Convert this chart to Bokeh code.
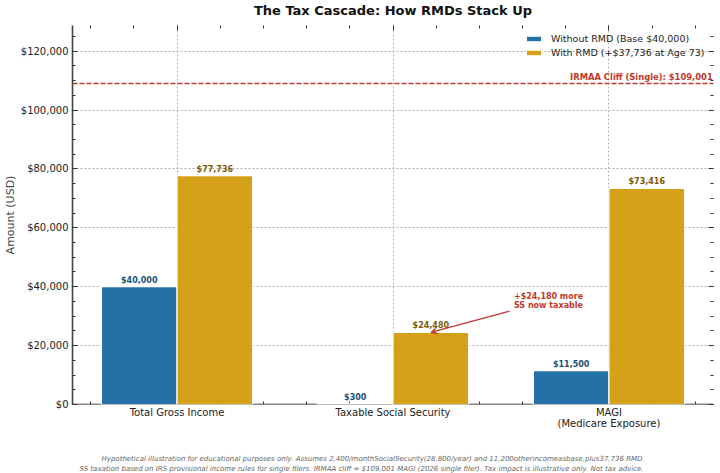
from bokeh.plotting import figure
from bokeh.core.properties import value
from bokeh.models import (ColumnDataSource, FixedTicker, NumeralTickFormatter, LinearAxis,
                          Range1d, Label, Span, Arrow, VeeHead, Legend, LegendItem, Title)
from bokeh.embed import file_html
from bokeh.resources import INLINE

title = "The Tax Cascade: How RMDs Stack Up"
categories = ["Total Gross Income", "Taxable Social Security", "MAGI\n(Medicare Exposure)"]
positions = [0, 1, 2]
without_rmd = [40000, 300, 11500]
with_rmd = [77736, 24480, 73416]
series_names = ["Without RMD (Base $40,000)", "With RMD (+$37,736 at Age 73)"]
y_ticks = [0, 20000, 40000, 60000, 80000, 100000, 120000]
y_minor = [v * 5000 for v in range(0, 26)]
x_minor = [-0.4, -0.2, 0, 0.2, 0.4, 0.6, 0.8, 1.0, 1.2, 1.4, 1.6, 1.8, 2.0, 2.2, 2.4]
irmaa_value = 109001
irmaa_text = "IRMAA Cliff (Single): $109,001"
note_text = "+$24,180 more\nSS now taxable"
notes_line1 = ("Hypothetical illustration for educational purposes only. Assumes 2,400/monthSocialSecurity(28,800/year) "
               "and 11,200otherincomeasbase,plus37,736 RMD.")
notes_line2 = ("SS taxation based on IRS provisional income rules for single filers. IRMAA cliff = $109,001 MAGI "
               "(2026 single filer). Tax impact is illustrative only. Not tax advice.")
BLUE, GOLD, RED = "#2471A8", "#D4A017", "#C0392B"
BLUE_T, GOLD_T = "#1A5276", "#7D5A0A"
FONT = "DejaVu Sans"
BAR = 0.35

p = figure(width=720, height=473, output_backend="svg", toolbar_location=None,
           x_range=Range1d(-0.484, 2.484), y_range=Range1d(0, 128700),
           min_border_left=72, min_border_right=7, min_border_top=25, min_border_bottom=69,
           outline_line_color=None, background_fill_color="white", border_fill_color="white")

p.title.text = title
p.title.align = "center"
p.title.text_font = FONT
p.title.text_font_size = "13px"
p.title.text_font_style = "bold"
p.title.text_color = "#111111"
p.title.standoff = 0

xa, ya = p.xaxis[0], p.yaxis[0]
xt = FixedTicker(ticks=positions, minor_ticks=x_minor)
yt = FixedTicker(ticks=y_ticks, minor_ticks=y_minor)
xa.ticker = xt
ya.ticker = yt
xa.major_label_overrides = dict(zip(positions, categories))
ya.formatter = NumeralTickFormatter(format="$0,0")
ya.axis_label = "Amount (USD)"
ya.axis_label_text_font = FONT
ya.axis_label_text_font_size = "11px"
ya.axis_label_text_font_style = "normal"
ya.axis_label_standoff = 1
ya.major_label_standoff = 4
xa.major_label_standoff = -4
xa.major_label_text_line_height = 1.0
for ax in (xa, ya):
    ax.major_label_text_font = FONT
    ax.major_label_text_font_size = "10px"
    ax.major_label_text_color = "#222222"
ya.major_tick_in, ya.major_tick_out = 5, 0
ya.minor_tick_in, ya.minor_tick_out = 3, 0
ya.major_tick_line_color = "#333333"
ya.minor_tick_line_color = "#333333"
ya.axis_line_color = "#444444"
ya.axis_line_width = 1.6
xa.axis_line_color = None
xa.major_tick_line_color = None
xa.minor_tick_line_color = None

tick_style = dict(major_tick_in=5, major_tick_out=0, minor_tick_in=3, minor_tick_out=0,
                  major_tick_line_color="#333333", minor_tick_line_color="#333333",
                  major_label_standoff=0, major_label_text_font_size="1px")
blank_x = {t: "" for t in positions}
blank_y = {t: "" for t in y_ticks}
base = LinearAxis(ticker=xt, fixed_location=0, level="underlay", axis_line_color="#111111",
                  axis_line_width=1.6, major_label_overrides=blank_x, **tick_style)
top = LinearAxis(ticker=xt, axis_line_color=None, major_label_overrides=blank_x, **tick_style)
right = LinearAxis(ticker=yt, axis_line_color=None, major_label_overrides=blank_y, **tick_style)
p.add_layout(base, "below")
p.add_layout(top, "above")
p.add_layout(right, "right")

note_style = dict(align="left", text_font=FONT, text_font_style="italic",
                  text_font_size="7px", text_color="#666666")
p.add_layout(Title(text=" ", standoff=0, text_font_size="5px"), "above")
p.add_layout(Title(text=" ", standoff=11, **note_style), "below")
p.add_layout(Title(text=notes_line1, standoff=0, offset=29, **note_style), "below")
p.add_layout(Title(text=notes_line2, standoff=0, offset=7, **note_style), "below")

for g in (p.xgrid[0], p.ygrid[0]):
    g.grid_line_color = "#A8A8A8"
    g.grid_line_dash = [2, 2]
    g.grid_line_width = 0.9

src = ColumnDataSource(dict(
    x=positions, a=without_rmd, b=with_rmd,
    xa=[v - BAR / 2 for v in positions], xb=[v + BAR / 2 for v in positions],
    la=[f"${v:,}" for v in without_rmd], lb=[f"${v:,}" for v in with_rmd]))
r1 = p.vbar(x="xa", top="a", width=BAR, source=src, fill_color=BLUE, line_color="white", line_width=1.2)
r2 = p.vbar(x="xb", top="b", width=BAR, source=src, fill_color=GOLD, line_color="white", line_width=1.2)

p.text(x="xa", y="a", text="la", source=src, text_align="center", text_baseline="bottom", y_offset=-2,
       text_font=value(FONT), text_font_size="8px", text_font_style="bold", text_color=BLUE_T)
p.text(x="xb", y="b", text="lb", source=src, text_align="center", text_baseline="bottom", y_offset=-2,
       text_font=value(FONT), text_font_size="8px", text_font_style="bold", text_color=GOLD_T)

p.add_layout(Span(location=irmaa_value, dimension="width", line_color=RED, line_dash=[5, 2], line_width=1.5))
p.add_layout(Label(x=1.82, y=irmaa_value, text=irmaa_text, text_align="left", text_baseline="bottom",
                   y_offset=1.5, text_font=FONT, text_font_size="8.4px", text_font_style="bold", text_color=RED))

p.add_layout(Arrow(end=VeeHead(size=6, line_color=RED, fill_color=RED, line_width=1),
                   x_start=1.54, y_start=31700, x_end=1.175, y_end=24480,
                   line_color=RED, line_width=1.2))
p.add_layout(Label(x=1.56, y=32200, text=note_text, text_align="left", text_baseline="bottom",
                   text_font=FONT, text_font_size="8px", text_font_style="bold", text_color=RED,
                   text_line_height=0.95))

legend = Legend(items=[LegendItem(label=series_names[0], renderers=[r1]),
                       LegendItem(label=series_names[1], renderers=[r2])],
                location=(452, 346), orientation="vertical", background_fill_alpha=0,
                border_line_color=None, padding=0, margin=0, glyph_width=19, glyph_height=7,
                label_standoff=8, label_height=12, spacing=2,
                label_text_font=FONT, label_text_font_size="9.5px", label_text_color="#222222")
p.add_layout(legend, "center")

open("out.html", "w").write(file_html(p, INLINE))
